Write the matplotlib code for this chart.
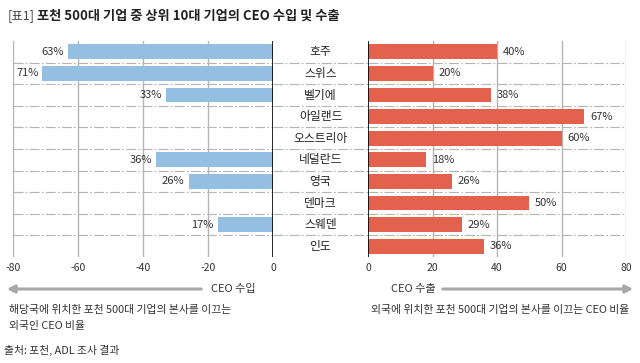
import matplotlib
matplotlib.use('Agg')
import matplotlib.pyplot as plt
from matplotlib.patches import FancyArrowPatch

plt.rcParams['font.family'] = ['Noto Sans CJK KR', 'DejaVu Sans']
plt.rcParams['axes.unicode_minus'] = False

# data
countries = ['호주', '스위스', '벨기에', '아일랜드', '오스트리아', '네덜란드', '영국', '덴마크', '스웨덴', '인도']
ceo_import = [63, 71, 33, None, None, 36, 26, None, 17, None]
ceo_export = [40, 20, 38, 67, 60, 18, 26, 50, 29, 36]
left_ticks = [-80, -60, -40, -20, 0]
right_ticks = [0, 20, 40, 60, 80]

title_tag = '[표1]'
title = '포천 500대 기업 중 상위 10대 기업의 CEO 수입 및 수출'
left_note = ['해당국에 위치한 포천 500대 기업의 본사를 이끄는', '외국인 CEO 비율']
right_note = '외국에 위치한 포천 500대 기업의 본사를 이끄는 CEO 비율'
source = '출처: 포천, ADL 조사 결과'

BLUE = '#95bfe2'
RED = '#e2624d'
GRID = '#b4b4b4'
TXT = '#333333'

W, H = 640, 363
fig = plt.figure(figsize=(W / 100, H / 100), dpi=100)


def px_axes(x0, x1, ytop, ybot):
    return fig.add_axes([x0 / W, (H - ybot) / H, (x1 - x0) / W, (ybot - ytop) / H])


ax_l = px_axes(13, 273, 41, 257)
ax_m = px_axes(273, 368, 41, 257)
ax_r = px_axes(368, 626, 41, 257)

n = len(countries)
ypos = list(range(n))

for ax in (ax_l, ax_m, ax_r):
    ax.set_ylim(n - 0.5, -0.5)
    for s in ax.spines.values():
        s.set_visible(False)
    ax.tick_params(length=0, labelsize=7.5, colors=TXT, pad=4)
    ax.set_yticks([])
    for b in range(n - 1):
        ax.axhline(b + 0.5, color=GRID, lw=0.8, ls=(0, (9, 2, 1.5, 2)), zorder=0)

# left side: CEO import
ax_l.set_xlim(-80, 0)
ax_l.set_xticks(left_ticks)
for t in left_ticks[:-1]:
    ax_l.axvline(t, color=GRID, lw=1, zorder=0)
ax_l.axvline(0, color='black', lw=1.2, zorder=3)
for y, v in zip(ypos, ceo_import):
    if v is None:
        continue
    ax_l.barh(y, -v, height=0.68, color=BLUE, zorder=2)
    ax_l.text(-v - 1.2, y, f'{v}%', ha='right', va='center', fontsize=8, color=TXT)

# middle: country names
ax_m.set_xlim(0, 1)
ax_m.set_xticks([])
for y, c in zip(ypos, countries):
    ax_m.text(0.5, y, c, ha='center', va='center', fontsize=8.5, color='#222222')

# right side: CEO export
ax_r.set_xlim(0, 80)
ax_r.set_xticks(right_ticks)
for t in right_ticks[1:]:
    ax_r.axvline(t, color=GRID, lw=1, zorder=0)
ax_r.axvline(0, color='black', lw=1.2, zorder=3)
for y, v in zip(ypos, ceo_export):
    ax_r.barh(y, v, height=0.68, color=RED, zorder=2)
    ax_r.text(v + 1.8, y, f'{v}%', ha='left', va='center', fontsize=8, color=TXT)


def fx(x):
    return x / W


def fy(y):
    return (H - y) / H


# title
fig.text(fx(8), fy(16), title_tag, fontsize=9, color='#444444', va='center', ha='left')
fig.text(fx(37), fy(16), title, fontsize=9.5, fontweight='bold', color='#222222', va='center', ha='left')

# direction arrows
arrow_kw = dict(arrowstyle='-|>', color='#a8a8a8', lw=2.2, mutation_scale=11,
                transform=fig.transFigure)
fig.add_artist(FancyArrowPatch((fx(204), fy(289)), (fx(4), fy(289)), **arrow_kw))
fig.add_artist(FancyArrowPatch((fx(440), fy(289)), (fx(636), fy(289)), **arrow_kw))
fig.text(fx(233), fy(289), 'CEO 수입', fontsize=8, color=TXT, ha='center', va='center')
fig.text(fx(413), fy(289), 'CEO 수출', fontsize=8, color=TXT, ha='center', va='center')

# notes
fig.text(fx(9), fy(310), left_note[0], fontsize=7.8, color=TXT, ha='left', va='center')
fig.text(fx(9), fy(326), left_note[1], fontsize=7.8, color=TXT, ha='left', va='center')
fig.text(fx(629), fy(310), right_note, fontsize=7.8, color=TXT, ha='right', va='center')
fig.text(fx(4), fy(350), source, fontsize=7.8, color=TXT, ha='left', va='center')

fig.savefig('out.png', dpi=100)
